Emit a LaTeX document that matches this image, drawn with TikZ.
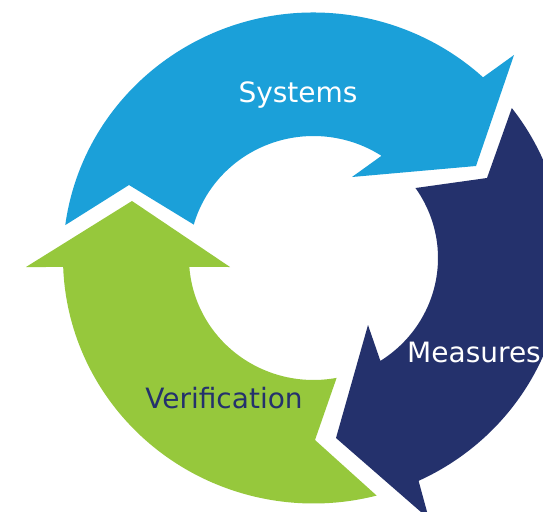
\documentclass[tikz,border=0pt]{standalone}
\usepackage{fontspec}
\setmainfont{DejaVu Sans}
\usetikzlibrary{calc}
\definecolor{cblue}{RGB}{27,160,217}
\definecolor{cnavy}{RGB}{36,49,108}
\definecolor{cgreen}{RGB}{150,200,60}
\begin{document}
\begin{tikzpicture}[x=1pt,y=1pt,
  lbl/.style={font=\fontsize{28}{34}\selectfont, inner sep=0pt, anchor=base},
  outerarc/.style={x radius=250.5, y radius=245.5},
  innerarc/.style={x radius=124.5, y radius=122}]
\useasboundingbox (0,0) rectangle (543,-511);
\clip (0,0) rectangle (543,-511);
\fill[white] (0,0) rectangle (543,-511);
\coordinate (c) at (313.5,-258);
% Systems arrow (blue)
\fill[cblue] ($(c)+(172.3:250.5 and 245.5)$) arc[start angle=172.3, end angle=47.4, outerarc]
  -- (514,-55) -- (476,-166) -- (352,-177)
  -- ($(c)+(56.9:124.5 and 122)$) arc[start angle=56.9, end angle=164.1, innerarc]
  -- (129,-185) -- cycle;
% Measures arrow (navy)
\fill[cnavy] ($(c)+(37.65:250.5 and 245.5)$) arc[start angle=37.65, end angle=-65.2, outerarc]
  -- (429,-519) -- (336,-438) -- (368,-325)
  -- ($(c)+(-57.5:124.5 and 122)$) arc[start angle=-57.5, end angle=35, innerarc]
  -- (487,-178) -- cycle;
% Verification arrow (green)
\fill[cgreen] ($(c)+(-75.4:250.5 and 245.5)$) arc[start angle=-75.4, end angle=-177.9, outerarc]
  -- (26,-267) -- (132,-201) -- (230,-267)
  -- ($(c)+(-175.8:124.5 and 122)$) arc[start angle=-175.8, end angle=-79.3, innerarc]
  -- (315,-440) -- cycle;
\node[lbl, text=white] (sys) at (298,-102) {Systems};
\node[lbl, text=white, anchor=base west] (meas) at (407,-362) {Measures};
\node[lbl, text=cnavy] (ver) at (224,-408) {Verification};
\end{tikzpicture}
\end{document}
